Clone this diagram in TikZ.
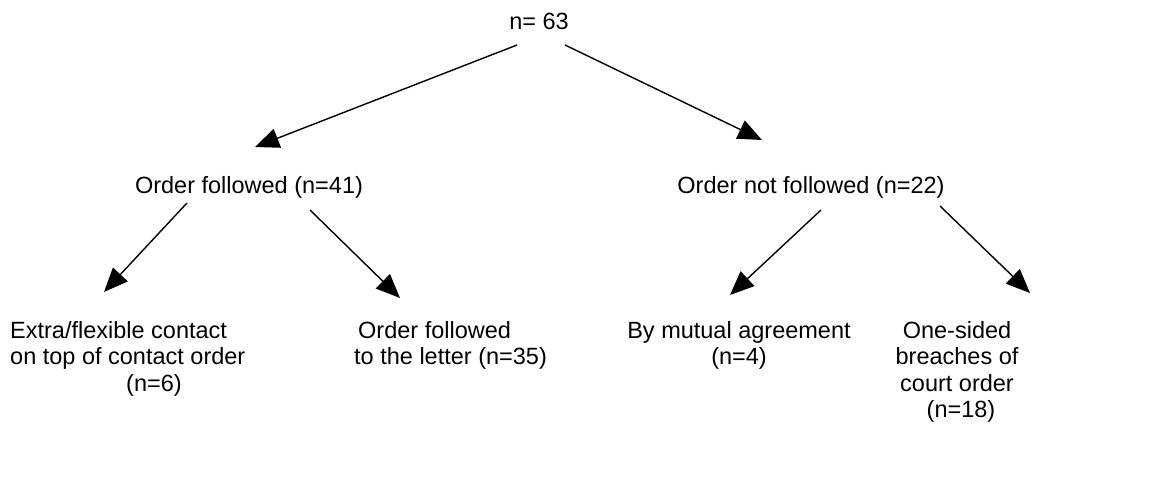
\documentclass[tikz,border=0pt]{standalone}
\usepackage{fontspec}
\setmainfont{Liberation Sans}
\usetikzlibrary{arrows.meta}
\begin{document}
\begin{tikzpicture}[x=1pt,y=-1pt,
  lbl/.style={font=\fontsize{23.5pt}{26.5pt}\selectfont, inner sep=0pt, anchor=base},
  arr/.style={line width=1.4pt, -{Triangle[length=24pt,width=20pt]}}]
\useasboundingbox (0,0) rectangle (1162,478);
% texts
\node[lbl] (top) at (539,30) {n= 63};
\node[lbl] (of) at (249,194) {Order followed (n=41)};
\node[lbl] (onf) at (811,194) {Order not followed (n=22)};
\node[lbl, align=left, anchor=north west] (ex) at (10,321) {Extra/flexible contact\\on top of contact order\\\hspace*{116pt}(n=6)};
\node[lbl, align=left, anchor=north west] (ol) at (354,321) {\hspace*{4pt}Order followed\\to the letter (n=35)};
\node[lbl, align=center, anchor=north] (ma) at (739,321) {By mutual agreement\\(n=4)};
\node[lbl, align=center, anchor=north] (br) at (957,321) {One-sided\\breaches of\\court order\\\hspace*{8pt}(n=18)};
% arrow end points
\coordinate (t1) at (517,45);  \coordinate (h1) at (255,147);
\coordinate (t2) at (565,45);  \coordinate (h2) at (762,140);
\coordinate (t3) at (187,203); \coordinate (h3) at (104,292);
\coordinate (t4) at (310,210); \coordinate (h4) at (400,298);
\coordinate (t5) at (821,210); \coordinate (h5) at (730,295);
\coordinate (t6) at (940,206); \coordinate (h6) at (1030,293);
\draw[arr] (t1) -- (h1);
\draw[arr] (t2) -- (h2);
\draw[arr] (t3) -- (h3);
\draw[arr] (t4) -- (h4);
\draw[arr] (t5) -- (h5);
\draw[arr] (t6) -- (h6);
\end{tikzpicture}
\end{document}
